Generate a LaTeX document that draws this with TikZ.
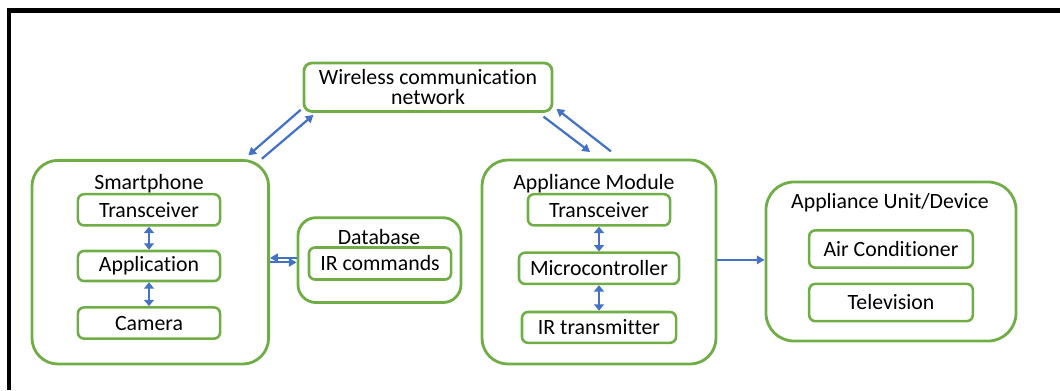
\documentclass[tikz,border=0pt]{standalone}
\usepackage{fontspec}
\setmainfont{Carlito}[Ligatures=NoCommon]
\usetikzlibrary{arrows.meta}
\definecolor{boxgreen}{RGB}{112,173,71}
\definecolor{linkblue}{RGB}{68,114,196}
\tikzset{
  outerbox/.style={draw=boxgreen, line width=2pt, rounded corners=0.65cm, inner sep=0pt},
  innerbox/.style={draw=boxgreen, line width=1.8pt, rounded corners=0.15cm, inner sep=0pt, minimum height=0.78cm},
  link/.style={draw=linkblue, line width=1.6pt, -{Triangle[length=5.5pt,width=6pt]}},
  dlink/.style={draw=linkblue, line width=2pt, {Triangle[length=4.5pt,width=7pt]}-{Triangle[length=4.5pt,width=7pt]}},
}
\begin{document}
\begin{tikzpicture}[x=0.025cm, y=-0.025cm, font=\fontsize{15.5}{17}\selectfont]
        \useasboundingbox (0,0) rectangle (1060,390);
        \draw[line width=3pt] (9.3,390) -- (9.3,10.5) -- (1060,10.5);

        % Wireless network
        \node[outerbox, rounded corners=0.2cm, minimum width=6.2cm, minimum height=1.21cm, align=center,
              font=\fontsize{15.5}{14.2}\selectfont] (wcn) at (428,87.2) {Wireless communication\\network};

        % Smartphone block
        \node[outerbox, minimum width=5.915cm, minimum height=5.09cm] (phone) at (150.3,262.2) {};
        \node (phonetitle) at (149,184) {Smartphone};
        \node[innerbox, minimum width=3.55cm] (ptrx) at (149,209.8) {Transceiver};
        \node[innerbox, minimum width=3.55cm, minimum height=0.75cm] (papp) at (149,266) {Application};
        \node[innerbox, minimum width=3.55cm] (pcam) at (149,323) {Camera};
        \draw[dlink] (ptrx) -- (papp);
        \draw[dlink] (papp) -- (pcam);

        % Database
        \node[outerbox, rounded corners=0.45cm, minimum width=4.075cm, minimum height=2.12cm] (db) at (379.5,260.1) {};
        \node (dbtitle) at (379,237) {Database};
        \node[innerbox, minimum width=3.55cm, minimum height=0.8cm] (ircmd) at (380,263.5) {IR commands};
        \draw[link] ([yshift=1.6pt]db.west) -- ([yshift=1.6pt]db.west -| phone.east);
        \draw[link] ([yshift=-1.6pt]db.west -| phone.east) -- ([yshift=-1.6pt]db.west);

        % Appliance module
        \node[outerbox, minimum width=5.85cm, minimum height=5.1cm] (module) at (599,262) {};
        \node (moduletitle) at (594,184) {Appliance Module};
        \node[innerbox, minimum width=3.55cm] (mtrx) at (599,209.8) {Transceiver};
        \node[innerbox, minimum width=4cm] (mcu) at (599,268.3) {Microcontroller};
        \node[innerbox, minimum width=3.85cm, minimum height=0.77cm] (irtx) at (599,327.4) {IR transmitter};
        \draw[dlink] (mtrx) -- (mcu);
        \draw[dlink] (mcu) -- (irtx);

        % Appliance unit
        \node[outerbox, rounded corners=0.7cm, minimum width=6.25cm, minimum height=3.975cm] (unit) at (891,261.5) {};
        \node (unittitle) at (890,203) {Appliance Unit/Device};
        \node[innerbox, minimum width=4.09cm, minimum height=0.93cm] (ac) at (891,249) {Air Conditioner};
        \node[innerbox, minimum width=4.09cm, minimum height=0.93cm] (tv) at (891,302.5) {Television};
        \draw[link] ([yshift=1.5pt]module.east) -- ([yshift=1.5pt]module.east -| unit.west);

        % links to the network
        \coordinate (w1) at (300.7,109.8);
        \coordinate (p1) at (248.3,155.4);
        \coordinate (p2) at (261.8,158.8);
        \coordinate (w2) at (313.5,114.9);
        \coordinate (w3) at (543.5,116.6);
        \coordinate (m3) at (590.1,152);
        \coordinate (m4) at (611,151.4);
        \coordinate (w4) at (556.4,108.8);
        \draw[link] (w1) -- (p1);
        \draw[link] (p2) -- (w2);
        \draw[link] (w3) -- (m3);
        \draw[link] (m4) -- (w4);
      \end{tikzpicture}
\end{document}
